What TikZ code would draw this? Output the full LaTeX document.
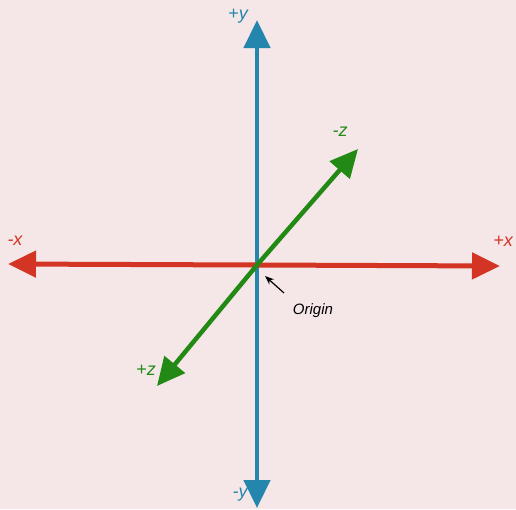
\documentclass[tikz,border=0pt]{standalone}
\usepackage{fontspec}
\setmainfont{Liberation Sans}
\usepackage{xcolor}
\usetikzlibrary{arrows.meta, positioning}

\definecolor{nenhong}{RGB}{245,230,232}
\definecolor{trucdo}{RGB}{212,52,36}
\definecolor{truclam}{RGB}{36,134,172}
\definecolor{trucluc}{RGB}{34,138,20}

\tikzset{
    truc/.style={line width=5pt, -{Triangle[length=28pt, width=26pt]}},
    nhan/.style={font=\fontsize{18}{18}\selectfont\itshape, inner sep=1pt}
}

\begin{document}
\begin{tikzpicture}[x=1pt, y=-1pt, >=stealth]

    % =================================================================
    % 1. NỀN VÀ KHUNG HÌNH
    % =================================================================
    \fill[nenhong] (0,0) rectangle (516,509);
    \useasboundingbox (0,0) rectangle (516,509);

    % Gốc tọa độ và các đầu mút
    \coordinate (O) at (257,265);
    \coordinate (xduong) at (500,266);
    \coordinate (xam) at (8,264);
    \coordinate (yduong) at (257,20);
    \coordinate (yam) at (257,508);
    \coordinate (zam) at (358,149);
    \coordinate (zduong) at (157,386);

    % =================================================================
    % 2. VẼ CÁC TRỤC x, y, z
    % =================================================================
    \draw[truc, truclam, line width=4.5pt] (O) -- (yduong);
    \draw[truc, truclam, line width=4.5pt] (O) -- (yam);
    \draw[truc, trucdo] (O) -- (xduong);
    \draw[truc, trucdo] (O) -- (xam);
    \draw[truc, trucluc, line width=4.5pt] (O) -- (zam);
    \draw[truc, trucluc, line width=4.5pt] (O) -- (zduong);

    % =================================================================
    % 3. GÁN NHÃN CÁC TRỤC
    % =================================================================
    \node[nhan, truclam] (ny1) at (238,16) {+y};
    \node[nhan, truclam] (ny2) at (240,495) {-y};
    \node[nhan, trucdo] (nx1) at (15,241) {-x};
    \node[nhan, trucdo] (nx2) at (503,241) {+x};
    \node[nhan, trucluc] (nz1) at (340,132) {-z};
    \node[nhan, trucluc] (nz2) at (146,370) {+z};

    % Nhãn gốc tọa độ
    \node[font=\fontsize{15}{15}\selectfont\itshape, inner sep=1pt] (goc) at (313,311) {Origin};
    \coordinate (chanmui) at (284,293);
    \coordinate (muigoc) at (265,276);
    \draw[-{Stealth[length=9pt, width=7pt]}, line width=1.2pt] (chanmui) -- (muigoc);

\end{tikzpicture}
\end{document}
